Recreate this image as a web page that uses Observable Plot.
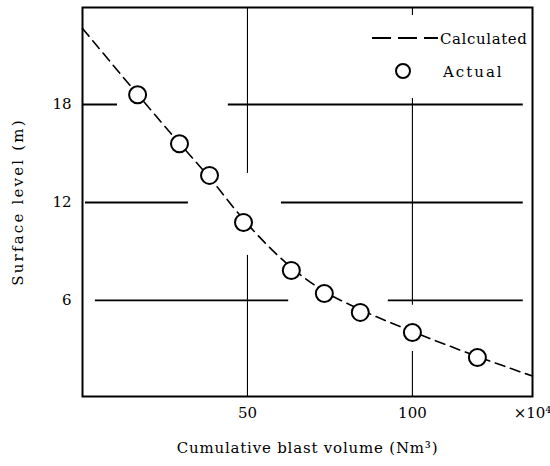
<!DOCTYPE html>
<html><head><meta charset="utf-8">
<script src="https://cdn.jsdelivr.net/npm/d3@7"></script>
<script src="https://cdn.jsdelivr.net/npm/@observablehq/plot@0.6"></script>
<style>
body{margin:0;background:#fff}
svg text{font-family:"DejaVu Serif","Liberation Serif",serif !important;}
</style>
</head><body><div id="chart"></div>
<script>
// Actual measurements (cumulative blast volume ×10^4 Nm3, surface level m)
const actualX = [16.7, 29.4, 38.5, 48.8, 63.3, 73.3, 84.2, 100.0, 119.7];
const actualY = [18.6, 15.6, 13.66, 10.78, 7.84, 6.43, 5.27, 4.04, 2.51];
// Calculated curve
const calcX = [0, 16.7, 29.4, 38.5, 48.8, 63.3, 73.3, 84.2, 100.0, 119.7, 136.4];
const calcY = [22.66, 18.62, 15.62, 13.53, 10.96, 8.02, 6.55, 5.45, 4.1, 2.57, 1.37];
// Axes
const xTicks = [50, 100];
const yTicks = [6, 12, 18];
const xDomain = [0, 136.4];
const yDomain = [0.12, 23.94];
const xUnit = "×10⁴";
const xLabel = "Cumulative blast volume (Nm³)";
const yLabel = "Surface level (m)";
const legendLabels = ["Calculated", "Actual"];
// Broken grid lines (segments drawn, in data units)
const hGridY  = [18, 18, 12, 12, 6, 6];
const hGridX1 = [0, 44.2, 0.9, 60.3, 3.9, 92.7];
const hGridX2 = [10.6, 133.6, 32.1, 133.6, 62.5, 133.6];
const vGridX  = [50, 50, 100, 100, 100];
const vGridY1 = [23.94, 8.76, 23.94, 18.37, 2.88];
const vGridY2 = [13.78, 0.12, 23.45, 5.7, 0.12];

const actual = actualX.map((x, i) => ({x, y: actualY[i]}));
const calc = calcX.map((x, i) => ({x, y: calcY[i]}));
const hGrid = hGridY.map((y, i) => ({y, x1: hGridX1[i], x2: hGridX2[i]}));
const vGrid = vGridX.map((x, i) => ({x, y1: vGridY1[i], y2: vGridY2[i]}));
const xAllTicks = [...xTicks, xDomain[1]];

const plot = Plot.plot({
  width: 550,
  height: 466,
  marginLeft: 82,
  marginRight: 18,
  marginTop: 7,
  marginBottom: 70,
  style: {fontSize: "16px", background: "#fff", color: "#000"},
  x: {domain: xDomain},
  y: {domain: yDomain},
  marks: [
    Plot.ruleY(hGrid, {y: "y", x1: "x1", x2: "x2", stroke: "#000", strokeWidth: 1.8}),
    Plot.ruleX(vGrid, {x: "x", y1: "y1", y2: "y2", stroke: "#000", strokeWidth: 1.1}),
    Plot.frame({stroke: "#000", strokeWidth: 2}),
    Plot.axisX(xAllTicks, {tickSize: 0, tickPadding: 11, fontSize: 15,
      tickFormat: d => d === xDomain[1] ? xUnit : String(d), label: null}),
    Plot.axisY(yTicks, {tickSize: 0, tickPadding: 11, fontSize: 15, label: null}),
    Plot.line(calc, {x: "x", y: "y", curve: "monotone-x", stroke: "#000",
      strokeWidth: 1.6, strokeDasharray: "10,6"}),
    Plot.dot(actual, {x: "x", y: "y", r: 8.5, stroke: "#000", strokeWidth: 2, fill: "#fff"}),
    Plot.text([xLabel], {text: d => d, frameAnchor: "bottom", dy: 56, textAnchor: "middle",
      fontSize: 15, fill: "#000"}),
    Plot.text([yLabel], {text: d => d, frameAnchor: "left", dx: -64, rotate: -90, textAnchor: "middle",
      fontSize: 15, fill: "#000"})
  ]
});

document.getElementById("chart").appendChild(plot);

const svg = d3.select(plot);
svg.selectAll("text").filter(function(){ return this.textContent === yLabel; })
  .attr("letter-spacing", "2.2px");
svg.selectAll("text").filter(function(){ return this.textContent === xLabel; })
  .attr("letter-spacing", "0.8px");

// Legend overlay (top-right inside the frame)
const g = svg.append("g").attr("font-size", 15)
  .attr("fill", "#000").attr("text-anchor", "start");
g.append("line").attr("x1", 372).attr("x2", 438).attr("y1", 38).attr("y2", 38)
  .attr("stroke", "#000").attr("stroke-width", 2).attr("stroke-dasharray", "19,7");
g.append("text").attr("x", 440).attr("y", 44).attr("letter-spacing", "0.6px").text(legendLabels[0]);
g.append("circle").attr("cx", 403).attr("cy", 71).attr("r", 7).attr("fill", "#fff")
  .attr("stroke", "#000").attr("stroke-width", 2);
g.append("text").attr("x", 443).attr("y", 77).attr("letter-spacing", "2px").text(legendLabels[1]);
</script>
</body></html>
